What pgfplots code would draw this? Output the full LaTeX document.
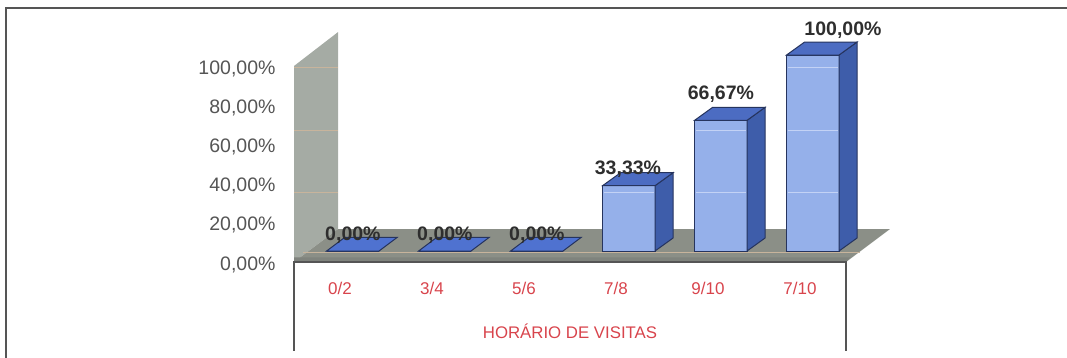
\documentclass[border=0pt]{standalone}
\usepackage{fontspec}
\setmainfont{Liberation Sans}
\usepackage{pgfplots}
\usepackage{pgfplotstable}
\pgfplotsset{compat=1.18}
\definecolor{wallc}{HTML}{A5ABA4}
\definecolor{floorc}{HTML}{8B8F87}
\definecolor{floorf}{HTML}{7F837D}
\definecolor{barf}{HTML}{95B0EA}
\definecolor{bart}{HTML}{4C6CC2}
\definecolor{bars}{HTML}{3E5DAA}
\definecolor{flat}{HTML}{4F72D0}
\definecolor{edge}{HTML}{26345E}
\definecolor{rl}{HTML}{D8444C}
\definecolor{scan}{HTML}{C8B49C}
\definecolor{scanb}{HTML}{C3D2F5}
\definecolor{ticktxt}{HTML}{555555}
\definecolor{lbl}{HTML}{2E2E2E}
\pgfplotstableread{
x v
0 0
1 0
2 0
3 33.33
4 66.67
5 100
}\visitas
\pgfplotsset{lab/.style={only marks,mark=none,point meta=explicit symbolic,
  nodes near coords={\pgfplotspointmeta\%},
  every node near coord/.append style={anchor=center,inner sep=0pt,font=\fontsize{19.5}{20}\selectfont\bfseries,text=lbl}}}
\begin{document}
\begin{tikzpicture}[x=1pt,y=1pt]
\useasboundingbox (0,0) rectangle (1067,358);
\draw[color=ticktxt,line width=1.5pt] (6,0) -- (6,350) -- (1067,350);
\begin{axis}[
  at={(294pt,96pt)},anchor=south west,
  scale only axis,width=552pt,height=196pt,
  clip=false,
  xmin=-0.5,xmax=5.5,ymin=-5.6,ymax=94.4,
  axis line style={draw=none},
  major tick length=0pt,
  xtick={0,1,2,3,4,5},
  xticklabels={0/2,3/4,5/6,7/8,9/10,7/10},
  ytick={-5.6,14.4,34.4,54.4,74.4,94.4},
  yticklabels={{0,00\%},{20,00\%},{40,00\%},{60,00\%},{80,00\%},{100,00\%}},
  yticklabel style={anchor=east,xshift=-15pt,yshift=-2.5pt,font=\fontsize{19.5}{20}\selectfont,text=ticktxt},
  xticklabel style={anchor=center,yshift=-26pt,font=\fontsize{17}{17}\selectfont,text=rl},
  xlabel={HORÁRIO DE VISITAS},
  xlabel style={at={(axis description cs:0.5,0)},anchor=center,yshift=-69pt,font=\fontsize{16.8}{17}\selectfont,text=rl},
]
% wall and floor
\addplot[fill=wallc,draw=none] coordinates {(-0.5,-5.6)(-0.5,94.4)(-0.0217,111.7)(-0.0217,11.2)} --cycle;
\addplot[fill=floorc,draw=none] coordinates {(-0.5,-5.6)(-0.0217,11.2)(5.978,11.2)(5.5,-5.6)} --cycle;
\addplot[fill=floorf,draw=none] coordinates {(-0.5,-5.6)(-0.5,-3.2)(5.55,-3.2)(5.5,-5.6)} --cycle;
% scan stripes on wall and floor
\addplot[color=scan,line width=1pt] coordinates {(-0.5,93.4)(-0.0217,93.4)};
\addplot[color=scan,line width=1pt] coordinates {(-0.5,61.7)(-0.0217,61.7)};
\addplot[color=scan,line width=1pt] coordinates {(-0.5,30.1)(-0.0217,30.1)};
\addplot[color=scan,line width=1pt] coordinates {(-0.4,-0.5)(5.65,-0.5)};
% axis frame lines
\addplot[color=ticktxt,line width=1.3pt] coordinates {(-0.5,-51)(-0.5,-5.6)(5.5,-5.6)(5.5,-51)};
% labels hidden by bar tops
\addplot[lab] table[x=x,y=y,meta=m] {
x y m
3.13 41.9 33,33
};
% bars
\addplot[ybar,bar width=52.4pt,bar shift=12.8pt,fill=barf,draw=edge,line width=1pt] table[x=x,y=v] {\visitas};
\addplot[fill=bars,draw=edge,line width=1pt] coordinates {(3.424,0)(3.62,6.63)(3.62,39.96)(3.424,33.33)} --cycle;
\addplot[fill=bart,draw=edge,line width=1pt] coordinates {(2.854,33.33)(3.05,39.96)(3.62,39.96)(3.424,33.33)} --cycle;
\addplot[fill=bars,draw=edge,line width=1pt] coordinates {(4.424,0)(4.62,6.63)(4.62,73.3)(4.424,66.67)} --cycle;
\addplot[fill=bart,draw=edge,line width=1pt] coordinates {(3.854,66.67)(4.05,73.3)(4.62,73.3)(4.424,66.67)} --cycle;
\addplot[fill=bars,draw=edge,line width=1pt] coordinates {(5.424,0)(5.62,6.63)(5.62,106.63)(5.424,100)} --cycle;
\addplot[fill=bart,draw=edge,line width=1pt] coordinates {(4.854,100)(5.05,106.63)(5.62,106.63)(5.424,100)} --cycle;
\addplot[fill=flat,draw=edge,line width=1pt] coordinates {(-0.146,0)(0.05,6.9)(0.62,6.9)(0.424,0)} --cycle;
\addplot[fill=flat,draw=edge,line width=1pt] coordinates {(0.854,0)(1.05,6.9)(1.62,6.9)(1.424,0)} --cycle;
\addplot[fill=flat,draw=edge,line width=1pt] coordinates {(1.854,0)(2.05,6.9)(2.62,6.9)(2.424,0)} --cycle;
% scan stripes across the bars
\addplot[color=scanb,line width=1pt] coordinates {(2.87,30.1)(3.41,30.1)};
\addplot[color=scanb,line width=1pt] coordinates {(3.87,30.1)(4.41,30.1)};
\addplot[color=scanb,line width=1pt] coordinates {(3.87,61.7)(4.41,61.7)};
\addplot[color=scanb,line width=1pt] coordinates {(4.87,30.1)(5.41,30.1)};
\addplot[color=scanb,line width=1pt] coordinates {(4.87,61.7)(5.41,61.7)};
\addplot[color=scanb,line width=1pt] coordinates {(4.87,93.4)(5.41,93.4)};
% labels on top
\addplot[lab] table[x=x,y=y,meta=m] {
x y m
0.14 8.2 0,00
1.14 8.2 0,00
2.14 8.2 0,00
4.14 80.1 66,67
5.467 112.8 100,00
};
\end{axis}
\end{tikzpicture}
\end{document}
